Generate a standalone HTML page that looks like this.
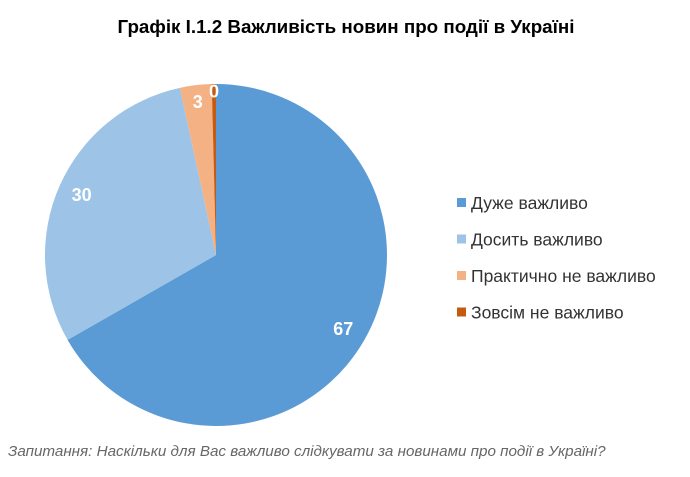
<!DOCTYPE html>
<html><head><meta charset="utf-8"><style>
body{margin:0;background:#fff;width:690px;height:472px;overflow:hidden;font-family:"Liberation Sans",Arial,sans-serif}
</style></head><body>
<svg width="690" height="472" xmlns="http://www.w3.org/2000/svg">
<text x="346" y="33" text-anchor="middle" font-size="18.8" font-weight="bold" fill="#000">Графік І.1.2 Важливість новин про події в Україні</text>
<g id="pie"></g>
<g id="legend"></g>
<text x="8" y="456" font-size="15.2" font-style="italic" fill="#666">Запитання: Наскільки для Вас важливо слідкувати за новинами про події в Україні?</text>
</svg>
<script>
const categories=["Дуже важливо","Досить важливо","Практично не важливо","Зовсім не важливо"];
const values=[67,30,3,0.4];
const labels=["67","30","3","0"];
const colors=["#5B9BD5","#9DC3E6","#F4B183","#C55A11"];
const ns="http://www.w3.org/2000/svg";
const cx=216,cy=255,R=171;
const total=values.reduce((a,b)=>a+b,0);
const pie=document.getElementById('pie');
function pt(frac,r){const a=frac*2*Math.PI;return [cx+Math.sin(a)*r,cy-Math.cos(a)*r];}
let acc=0;
values.forEach((v,i)=>{
  const s=acc/total,e=(acc+v)/total;acc+=v;
  const [x1,y1]=pt(s,R),[x2,y2]=pt(e,R);
  const p=document.createElementNS(ns,'path');
  p.setAttribute('d',`M${cx},${cy}L${x1},${y1}A${R},${R} 0 ${e-s>0.5?1:0} 1 ${x2},${y2}Z`);
  p.setAttribute('fill',colors[i]);
  
  
  pie.appendChild(p);
});
acc=0;
values.forEach((v,i)=>{
  const m=(acc+v/2)/total;acc+=v;
  const k=v<1?0.955:(v<5?0.9:0.86);
  const [x,y]=pt(m,R*k);
  const t=document.createElementNS(ns,'text');
  t.setAttribute('x',x);t.setAttribute('y',y+6);
  t.setAttribute('text-anchor','middle');t.setAttribute('font-size','18');
  t.setAttribute('font-weight','bold');t.setAttribute('fill','#fff');
  t.textContent=labels[i];
  
  
  pie.appendChild(t);
});
const lg=document.getElementById('legend');
categories.forEach((c,i)=>{
  const y=203+i*36.5;
  const r=document.createElementNS(ns,'rect');
  r.setAttribute('x',457);r.setAttribute('y',y-5);r.setAttribute('width',9);r.setAttribute('height',9);
  r.setAttribute('fill',colors[i]);
  
  
  lg.appendChild(r);
  const t=document.createElementNS(ns,'text');
  t.setAttribute('x',471);t.setAttribute('y',y+6);t.setAttribute('font-size','17.5');t.setAttribute('fill','#333');
  t.textContent=c;
  
  
  lg.appendChild(t);
});
</script>
</body></html>
